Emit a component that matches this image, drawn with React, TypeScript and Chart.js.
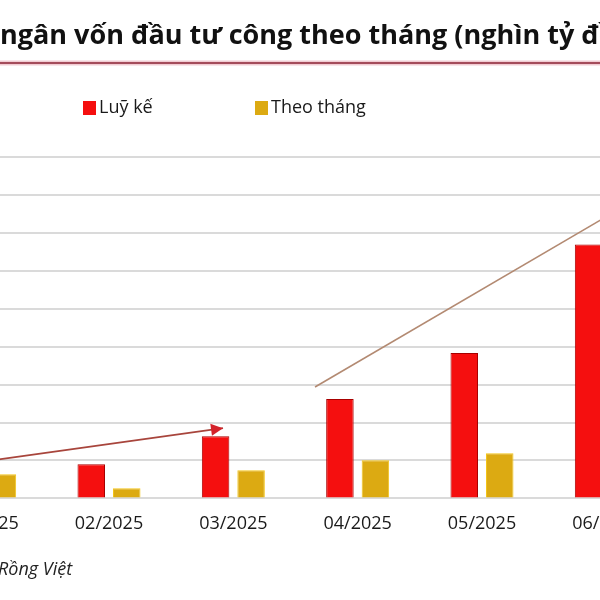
import React, { useEffect, useRef } from "react";
import { Chart, registerables } from "chart.js";

Chart.register(...registerables);

const categories = ["01/2025", "02/2025", "03/2025", "04/2025", "05/2025", "06/2025"];
const cumulative = [25.4, 36, 65.6, 104.8, 153.4, 267.7];
const monthly = [25.4, 10.6, 29.6, 40.2, 47.6, 114.3];
const seriesNames = ["Luỹ kế", "Theo tháng"];
const yTicks = { min: 0, max: 360, step: 40 };
// trend arrows in data units: [categoryIndex, value]
const arrowQ1 = [[0, 39], [1.917, 74.1]];
const arrowQ2 = [[2.657, 117.5], [5.1, 304.8]];
const titleText = "Giải ngân vốn đầu tư công theo tháng (nghìn tỷ đồng)";
const titleHidden = "Giải ";
const sourceText = "Rồng Việt";

const OFFSET = 100; // canvas is shifted left by this much (reference is a crop)

const overlay = {
  id: "overlay",
  afterDatasetsDraw(chart: any) {
    const ctx = chart.ctx;
    const xs = chart.scales.x;
    const ys = chart.scales.y;
    const drawArrow = (pts: number[][], color: string, headColor: string | null) => {
      const x1 = xs.getPixelForValue(pts[0][0]);
      const y1 = ys.getPixelForValue(pts[0][1]);
      const x2 = xs.getPixelForValue(pts[1][0]);
      const y2 = ys.getPixelForValue(pts[1][1]);
      ctx.save();
      ctx.strokeStyle = color;
      ctx.lineWidth = 1.6;
      ctx.beginPath();
      ctx.moveTo(x1, y1);
      ctx.lineTo(x2, y2);
      ctx.stroke();
      if (headColor) {
        const a = Math.atan2(y2 - y1, x2 - x1);
        const L = 12, W = 6;
        ctx.fillStyle = headColor;
        ctx.beginPath();
        ctx.moveTo(x2, y2);
        ctx.lineTo(x2 - L * Math.cos(a) + W * Math.sin(a), y2 - L * Math.sin(a) - W * Math.cos(a));
        ctx.lineTo(x2 - L * Math.cos(a) - W * Math.sin(a), y2 - L * Math.sin(a) + W * Math.cos(a));
        ctx.closePath();
        ctx.fill();
      }
      ctx.restore();
    };
    drawArrow(arrowQ1, "#a8453c", "#d4222a");
    drawArrow(arrowQ2, "#b38a72", "#b38a72");
  },
  afterDraw(chart: any) {
    const ctx = chart.ctx;
    ctx.save();
    // title
    ctx.font = "bold 27px 'Open Sans'";
    ctx.fillStyle = "#111";
    ctx.textBaseline = "alphabetic";
    const hw = ctx.measureText(titleHidden).width;
    ctx.fillText(titleText, OFFSET - hw, 44);
    // underline
    ctx.strokeStyle = "#f1ccd3";
    ctx.lineWidth = 5;
    ctx.beginPath();
    ctx.moveTo(0, 63);
    ctx.lineTo(chart.width, 63);
    ctx.stroke();
    ctx.strokeStyle = "#8a2233";
    ctx.lineWidth = 1.6;
    ctx.beginPath();
    ctx.moveTo(0, 63);
    ctx.lineTo(chart.width, 63);
    ctx.stroke();
    // legend
    const ds = chart.data.datasets;
    const legendX = [OFFSET + 83, OFFSET + 255];
    ctx.font = "18px 'Open Sans'";
    ctx.textBaseline = "middle";
    ds.forEach((d: any, i: number) => {
      ctx.fillStyle = d.backgroundColor;
      ctx.fillRect(legendX[i], 101, 13, 14);
      ctx.fillStyle = "#1a1a1a";
      ctx.fillText(d.label, legendX[i] + 16, 108);
    });
    // source
    ctx.font = "italic 18px 'Open Sans'";
    ctx.fillStyle = "#222";
    ctx.textBaseline = "alphabetic";
    ctx.fillText(sourceText, OFFSET - 2, 575);
    ctx.restore();
  },
};

export default function App() {
  const ref = useRef<HTMLCanvasElement>(null);
  useEffect(() => {
    if (!ref.current) return;
    const chart = new Chart(ref.current, {
      type: "bar",
      data: {
        labels: categories,
        datasets: [
          {
            label: seriesNames[0],
            data: cumulative,
            backgroundColor: "#f50f0f",
            borderColor: "#a80000",
            borderWidth: 1,
          },
          {
            label: seriesNames[1],
            data: monthly,
            backgroundColor: "#dcaa12",
            borderColor: "#f2c51a",
            borderWidth: 1,
          },
        ],
      },
      options: {
        responsive: false,
        animation: false,
        layout: { padding: { top: 157, bottom: 50, left: 22.5, right: 31.5 } },
        datasets: { bar: { categoryPercentage: 0.571, barPercentage: 0.775 } },
        plugins: { legend: { display: false }, title: { display: false }, tooltip: { enabled: false } },
        scales: {
          x: {
            grid: { display: false, drawTicks: false },
            border: { display: false },
            ticks: { color: "#1a1a1a", padding: 15, font: { family: "'Open Sans'", size: 18 }, maxRotation: 0, autoSkip: false },
          },
          y: {
            min: yTicks.min,
            max: yTicks.max,
            ticks: { display: false, stepSize: yTicks.step },
            grid: { color: "#dadada", lineWidth: 2, drawTicks: false },
            border: { display: false },
          },
        },
      },
      plugins: [overlay],
    });
    return () => chart.destroy();
  }, []);
  return (
    <div style={{ position: "absolute", left: 0, top: 0, width: 600, height: 600, overflow: "hidden", background: "#fff" }}>
      <canvas ref={ref} width={800} height={600} style={{ position: "absolute", left: -OFFSET, top: 0, width: 800, height: 600 }} />
    </div>
  );
}
